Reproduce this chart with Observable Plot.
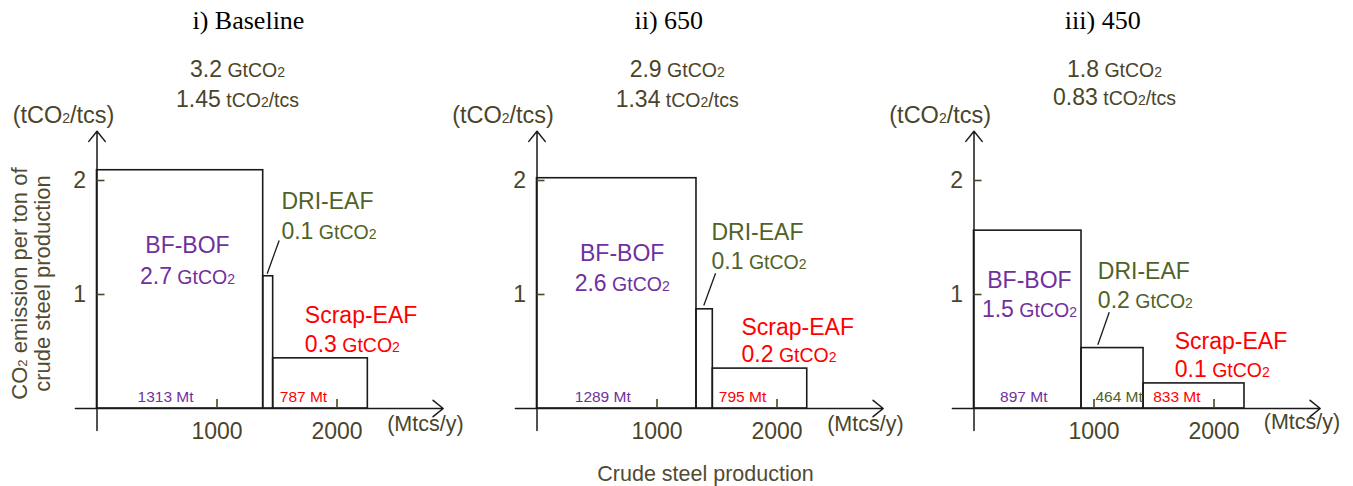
<!DOCTYPE html>
<html><head><meta charset="utf-8">
<script src="https://cdn.jsdelivr.net/npm/d3@7"></script>
<script src="https://cdn.jsdelivr.net/npm/@observablehq/plot@0.6"></script>
<style>
body{margin:0;background:#fff;}
#fig{position:relative;width:1353px;height:486px;overflow:hidden;background:#fff;}
#fig svg{position:absolute;top:0;overflow:visible;background:transparent;max-width:none;}
</style></head><body><div id="fig"></div>
<script>
// ---------- data ----------
const panels = ["i) Baseline", "ii) 650", "iii) 450"];
const routes = ["BF-BOF", "DRI-EAF", "Scrap-EAF"];
// production widths as drawn (Mtcs/y)
const production = [[1385, 83, 789], [1329, 136, 787], [896, 517, 841]];
// CO2 intensity as drawn (tCO2/tcs)
const intensity = [[2.09, 1.16, 0.44], [2.02, 0.87, 0.35], [1.56, 0.53, 0.22]];
const routeEmissions = [["2.7", "0.1", "0.3"], ["2.6", "0.1", "0.2"], ["1.5", "0.2", "0.1"]];
const productionLabels = [["1313 Mt", null, "787 Mt"], ["1289 Mt", null, "795 Mt"], ["897 Mt", "464 Mt", "833 Mt"]];
const totalEmissions = ["3.2", "2.9", "1.8"];
const avgIntensity = ["1.45", "1.34", "0.83"];
const xTicks = [1000, 2000];
const yTicks = [1, 2];
const yUnit = "(tCO2/tcs)";
const xUnit = "(Mtcs/y)";
const yTitle = ["CO2 emission per ton of", "crude steel production"];
const xTitle = "Crude steel production";

// ---------- layout (annotation positions in data units) ----------
const layout = {
  left: [0, 440, 877], width: [460, 460, 476],
  xRange: [96.5, 336.5], yRange: [408, 180],
  axisX: [-180, 2885], axisY: [-0.193, 2.432]
};
const annot = [
  {title:[1262,3.331], total:[1171,2.904], avg:[1171,2.649], unitY:[-279,2.503],
   name:[[754,1.36],[1537,1.754],[1732,0.746]], value:[[754,1.096],[1537,1.491],[1732,0.494]],
   mt:[[571,0.055],null,[1523,0.055]], unitX:[2418,-0.193], leader:[1518,1.474,1418,1.182]},
  {title:[1098,3.331], total:[1168,2.904], avg:[1168,2.649], unitY:[-283,2.503],
   name:[[710,1.292],[1454,1.482],[1704,0.649]], value:[[710,1.035],[1454,1.225],[1704,0.406]],
   mt:[[548,0.055],null,[1515,0.055]], unitX:[2418,-0.193], leader:[1488,1.187,1390,0.904]},
  {title:[1073,3.331], total:[1171,2.912], avg:[1171,2.658], unitY:[-282,2.503],
   name:[[462,1.059],[1032,1.138],[1673,0.524]], value:[[462,0.801],[1032,0.883],[1673,0.275]],
   mt:[[415,0.061],[1012,0.061],[1493,0.061]], unitX:[2415,-0.178], leader:[1127,0.845,1032,0.559]}
];
const routeColors = ["#7030a0", "#4f6228", "#ff0000"];
const dark = "#4a452a";
const sans = "Liberation Sans, Arial, sans-serif";

function label(txt, pos, opts) {
  return Plot.text([txt], {x: pos[0], y: pos[1], text: d => d, lineAnchor: "bottom",
    fontFamily: sans, ...opts});
}

const NS = "http://www.w3.org/2000/svg";
function richify(svg) {
  svg.querySelectorAll("text").forEach(t => {
    if (t.children.length) return;
    const s = t.textContent;
    const base = parseFloat(getComputedStyle(t).fontSize);
    const m = s.match(/^([\d.]+) (.*CO2.*)$/);
    let segs = [], rest, unitSize = null;
    if (m) { segs.push([m[1], base]); unitSize = 19.5; rest = " " + m[2]; }
    else if (s.includes("CO2")) { rest = s; }
    else return;
    const sub = m ? 14 : Math.round(base * 0.6);
    rest.split("CO2").forEach((p, i) => {
      if (i > 0) { segs.push(["CO", unitSize]); segs.push(["2", sub]); }
      if (p) segs.push([p, unitSize]);
    });
    t.textContent = "";
    segs.forEach(([txt, size]) => {
      const e = document.createElementNS(NS, "tspan");
      if (size) e.setAttribute("font-size", size);
      e.textContent = txt;
      t.appendChild(e);
    });
  });
}

const fig = document.getElementById("fig");
panels.forEach((title, p) => {
  const a = annot[p];
  let cum = 0;
  const bars = routes.map((r, i) => {
    const b = {route: r, x1: cum, x2: cum + production[p][i], h: intensity[p][i]};
    cum += production[p][i];
    return b;
  });
  const marks = [
    Plot.rect(bars, {x1: "x1", x2: "x2", y1: 0, y2: "h", fill: "none", stroke: "#1a1a1a", strokeWidth: 1.6}),
    Plot.arrow([{x1: layout.axisX[0], y1: 0, x2: layout.axisX[1], y2: 0}],
      {x1: "x1", y1: "y1", x2: "x2", y2: "y2", headLength: 13, headAngle: 78, stroke: "#1a1a1a", strokeWidth: 1.5}),
    Plot.arrow([{x1: 0, y1: layout.axisY[0], x2: 0, y2: layout.axisY[1]}],
      {x1: "x1", y1: "y1", x2: "x2", y2: "y2", headLength: 13, headAngle: 78, stroke: "#1a1a1a", strokeWidth: 1.5}),
    Plot.ruleX(xTicks, {x: d => d, y1: 0, y2: 0, insetTop: -9, stroke: dark, strokeWidth: 1.6}),
    Plot.ruleY(yTicks, {y: d => d, x1: 0, x2: 0, insetRight: -8, stroke: dark, strokeWidth: 1.6}),
    Plot.text(xTicks, {x: d => d, y: 0, text: d => String(d), dy: 30, lineAnchor: "bottom",
      fontFamily: sans, fontSize: 23, fill: dark}),
    Plot.text(yTicks, {x: 0, y: d => d, text: d => String(d), dx: -11, textAnchor: "end",
      fontFamily: sans, fontSize: 23, fill: dark}),
    Plot.link([a.leader], {x1: d => d[0], y1: d => d[1], x2: d => d[2], y2: d => d[3], stroke: "#1a1a1a", strokeWidth: 1.3}),
    label(title, a.title, {fontFamily: "Liberation Serif, Times New Roman, serif", fontSize: 26, fill: "#000"}),
    label(totalEmissions[p] + " GtCO2", a.total, {fontSize: 23, fill: dark}),
    label(avgIntensity[p] + " tCO2/tcs", a.avg, {fontSize: 23, fill: dark}),
    label(yUnit, a.unitY, {fontSize: 23.5, fill: dark}),
    label(xUnit, a.unitX, {fontSize: 21.5, fill: dark, textAnchor: "start"})
  ];
  routes.forEach((r, i) => {
    const anchor = i === 0 ? "middle" : "start";
    marks.push(label(r, a.name[i], {fontSize: 23, fill: routeColors[i], textAnchor: anchor}));
    marks.push(label(routeEmissions[p][i] + " GtCO2", a.value[i], {fontSize: 23, fill: routeColors[i], textAnchor: anchor}));
    if (productionLabels[p][i] && a.mt[i])
      marks.push(label(productionLabels[p][i], a.mt[i], {fontSize: 15.5, fill: routeColors[i], textAnchor: anchor}));
  });
  if (p === 0) {
    marks.push(label(yTitle[0], [-583, 1.096], {fontSize: 22, fill: "#504b32", rotate: -90}));
    marks.push(label(yTitle[1], [-392, 1.096], {fontSize: 22, fill: "#504b32", rotate: -90}));
  }
  if (p === 1) {
    marks.push(label(xTitle, [1404, -0.636], {fontSize: 21.5, fill: "#504b32"}));
  }
  const svg = Plot.plot({
    width: layout.width[p], height: 486, margin: 0,
    x: {type: "linear", domain: [0, 2000], range: layout.xRange, axis: null},
    y: {type: "linear", domain: [0, 2], range: layout.yRange, axis: null},
    style: {background: "transparent", overflow: "visible"},
    marks
  });
  svg.style.left = layout.left[p] + "px";
  fig.appendChild(svg);
  richify(svg);
});
</script></body></html>
